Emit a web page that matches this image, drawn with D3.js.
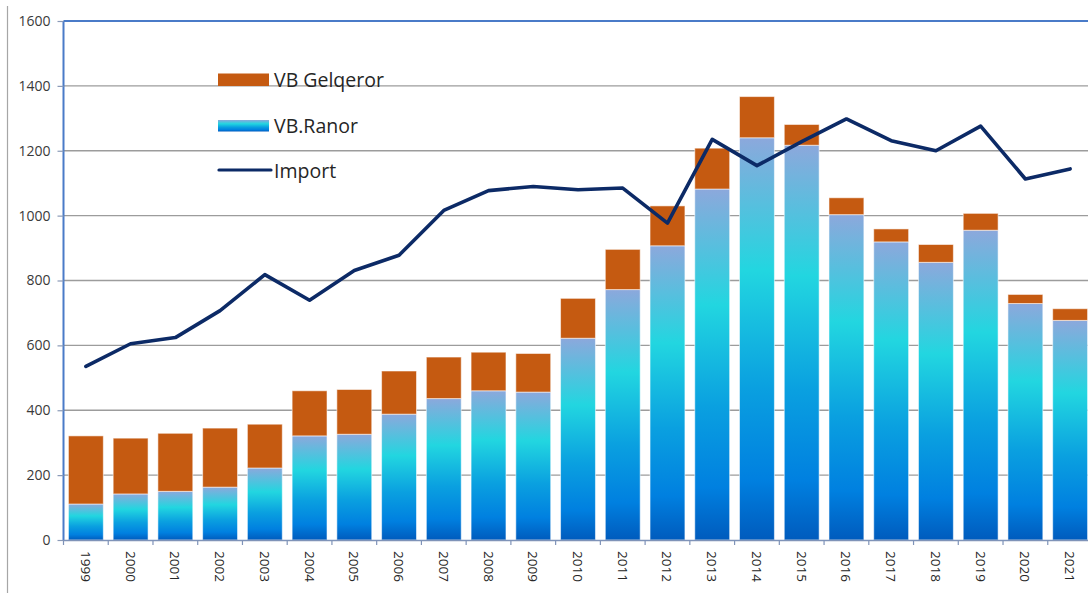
<!DOCTYPE html>
<html>
<head>
<meta charset="utf-8">
<script src="https://cdn.jsdelivr.net/npm/d3@7"></script>
<style>
  html, body { margin: 0; padding: 0; background: #fff; }
  svg { display: block; }
</style>
</head>
<body>
<svg id="chart" width="1088" height="593"></svg>
<script>
const years = ["1999","2000","2001","2002","2003","2004","2005","2006","2007","2008","2009","2010","2011","2012","2013","2014","2015","2016","2017","2018","2019","2020","2021"];
const ranor = [111,142,150,163,222,321,326,388,436,460,456,622,772,907,1082,1240,1217,1003,919,856,955,729,677];
const totals = [321,314,329,345,357,460,464,521,564,579,575,745,896,1030,1208,1367,1281,1055,959,911,1007,757,713];
const gelqeror = totals.map((t, i) => t - ranor[i]);
const importVals = [535,605,624,707,818,739,831,878,1016,1077,1090,1080,1085,977,1235,1154,1228,1298,1231,1200,1276,1113,1144];
const yTicks = [0,200,400,600,800,1000,1200,1400,1600];
const seriesNames = ["VB Gelqeror", "VB.Ranor", "Import"];

(function () {
const svg = d3.select("#chart");
const W = 1088, H = 593;
const pLeft = 63.5, pRight = 1092.5, pTop = 21, pBottom = 540;

const x = d3.scaleBand().domain(years).range([pLeft, pRight]).paddingInner(0.22).paddingOuter(0.11);
const y = d3.scaleLinear().domain([0, 1600]).range([pBottom, pTop]);

const defs = svg.append("defs");
const grad = defs.append("linearGradient").attr("id", "blueGrad")
  .attr("x1", 0).attr("y1", 0).attr("x2", 0).attr("y2", 1);
[[0, "#8ca8dc"], [0.33, "#22d6e0"], [0.62, "#0aa0e0"], [0.85, "#0080e0"], [1, "#005bbd"]]
  .forEach(([o, c]) => grad.append("stop").attr("offset", o).attr("stop-color", c));

// outer frame line at left
svg.append("line").attr("x1", 7.5).attr("x2", 7.5).attr("y1", 6).attr("y2", H)
  .attr("stroke", "#a6a6a6").attr("stroke-width", 1.2);

// gridlines
svg.append("g").selectAll("line").data(yTicks.filter(d => d > 0 && d < 1600)).join("line")
  .attr("x1", pLeft).attr("x2", W).attr("y1", d => y(d)).attr("y2", d => y(d))
  .attr("stroke", "#9c9c9c").attr("stroke-width", 1.4);

// top border
svg.append("line").attr("x1", pLeft).attr("x2", W).attr("y1", y(1600)).attr("y2", y(1600))
  .attr("stroke", "#4a7bc8").attr("stroke-width", 2);

// bars
const bars = svg.append("g");
bars.selectAll("rect.ranor").data(years).join("rect").attr("class", "ranor")
  .attr("x", d => x(d)).attr("width", x.bandwidth())
  .attr("y", (d, i) => y(ranor[i])).attr("height", (d, i) => y(0) - y(ranor[i]))
  .attr("fill", "url(#blueGrad)").attr("stroke", "rgba(255,255,255,0.55)").attr("stroke-width", 1);
bars.selectAll("rect.gel").data(years).join("rect").attr("class", "gel")
  .attr("x", d => x(d)).attr("width", x.bandwidth())
  .attr("y", (d, i) => y(ranor[i] + gelqeror[i])).attr("height", (d, i) => y(ranor[i]) - y(ranor[i] + gelqeror[i]))
  .attr("fill", "#c55a11").attr("stroke", "rgba(255,255,255,0.55)").attr("stroke-width", 1);

// y axis
const yAxis = d3.axisLeft(y).tickValues(yTicks).tickSize(6).tickPadding(7).tickFormat(d3.format("d"));
const gy = svg.append("g").attr("transform", `translate(${pLeft},0)`).call(yAxis);
gy.select(".domain").attr("stroke", "#4a7bc8").attr("stroke-width", 2).attr("d", `M0,${pTop}V${pBottom}`);
gy.selectAll(".tick line").attr("stroke", "#8a9ab8").attr("stroke-width", 1.2);
gy.selectAll(".tick text").attr("fill", "#3a3a3a").style("font-family", "'Open Sans', sans-serif").style("font-size", "14px");

// x axis
const gx = svg.append("g");
gx.append("line").attr("x1", pLeft).attr("x2", W).attr("y1", pBottom + 0.5).attr("y2", pBottom + 0.5)
  .attr("stroke", "#7f93b8").attr("stroke-width", 1.6);
const half = x.step() * x.paddingInner() / 2;
gx.selectAll("line.tk").data(years).join("line").attr("class", "tk")
  .attr("x1", d => x(d) - half).attr("x2", d => x(d) - half)
  .attr("y1", pBottom).attr("y2", pBottom + 5)
  .attr("stroke", "#7f93b8").attr("stroke-width", 1.2);
gx.selectAll("text").data(years).join("text")
  .attr("transform", d => `translate(${x(d) + x.bandwidth() / 2 - 5},${pBottom + 11}) rotate(90)`)
  .attr("text-anchor", "start")
  .attr("fill", "#262626")
  .style("font-family", "'Open Sans', sans-serif").style("font-size", "13.5px")
  .text(d => d);

// import line
const line = d3.line().x((d, i) => x(years[i]) + x.bandwidth() / 2).y(d => y(d));
svg.append("path").datum(importVals).attr("d", line)
  .attr("fill", "none").attr("stroke", "#0c2a66").attr("stroke-width", 3.6)
  .attr("stroke-linejoin", "round").attr("stroke-linecap", "round");

// legend
const lg = svg.append("g").style("font-family", "'Open Sans', sans-serif").style("font-size", "19.5px");
lg.append("rect").attr("x", 218).attr("y", 73.5).attr("width", 51).attr("height", 12.5).attr("fill", "#c55a11");
lg.append("rect").attr("x", 218).attr("y", 120).attr("width", 51).attr("height", 11.5).attr("fill", "url(#blueGrad)");
lg.append("line").attr("x1", 219).attr("x2", 271).attr("y1", 170).attr("y2", 170)
  .attr("stroke", "#0c2a66").attr("stroke-width", 3.2).attr("stroke-linecap", "round");
[[87, seriesNames[0]], [133, seriesNames[1]], [178, seriesNames[2]]].forEach(([by, t]) => {
  lg.append("text").attr("x", 274).attr("y", by).attr("fill", "#262626").text(t);
});
})();
</script>
</body>
</html>
